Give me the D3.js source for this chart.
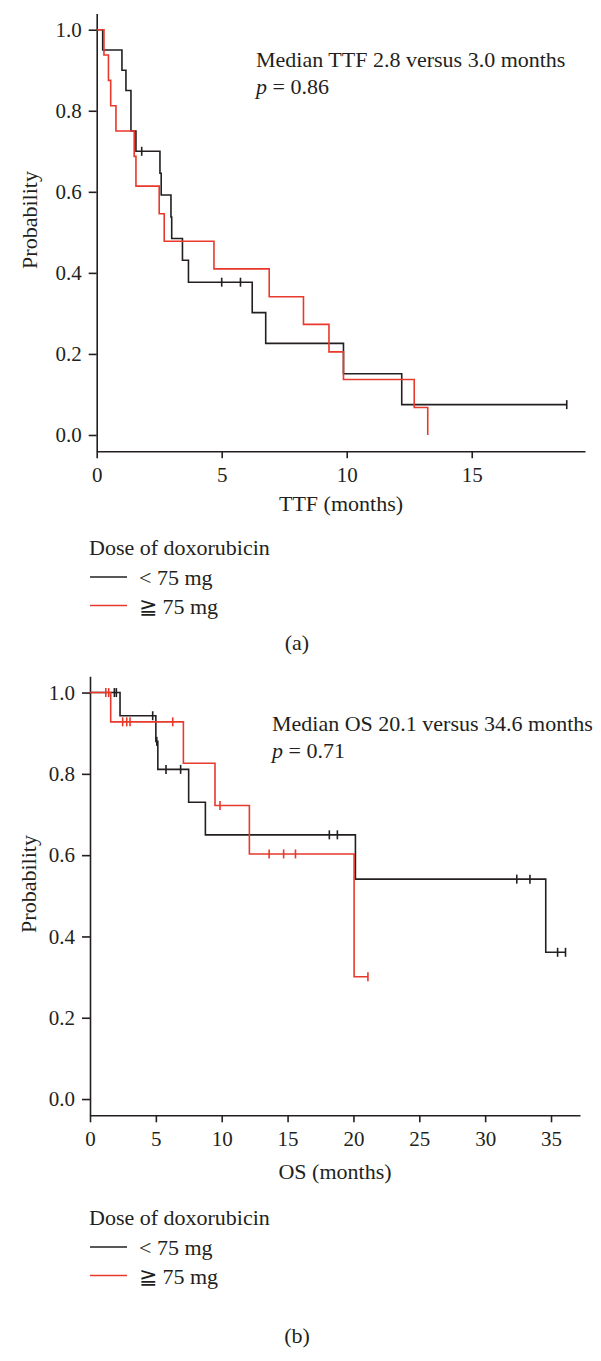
<!DOCTYPE html>
<html><head><meta charset="utf-8">
<script src="https://cdn.jsdelivr.net/npm/d3@7"></script>
<style>
body{margin:0;background:#fff}
svg{display:block}
text{font-family:"Liberation Serif","Times New Roman",serif;fill:#231f20}
</style></head>
<body><svg id="c" width="601" height="1361"></svg>
<script>
// ---- Data ----
const yTicks = [0, 0.2, 0.4, 0.6, 0.8, 1.0];
const ttfTicks = [0, 5, 10, 15];
const osTicks = [0, 5, 10, 15, 20, 25, 30, 35];
const groups = ["< 75 mg", "\u2267 75 mg"];

// Panel (a) TTF, < 75 mg
const ttfLowTimes = [0.24, 1.01, 1.17, 1.37, 1.57, 2.53, 2.58, 2.97, 3.0, 3.43, 3.67, 6.22, 6.76, 9.87, 12.2];
const ttfLowSurv  = [0.95, 0.90, 0.85, 0.75, 0.70, 0.646, 0.592, 0.538, 0.485, 0.431, 0.377, 0.302, 0.226, 0.151, 0.075];
const ttfLowCensor = [1.8, 5.0, 5.75, 18.8];
const ttfLowEnd = 18.8;
// Panel (a) TTF, >= 75 mg
const ttfHighTimes = [0.29, 0.47, 0.56, 0.77, 1.5, 1.57, 2.5, 2.7, 4.69, 6.9, 8.27, 9.29, 9.87, 12.7, 13.24];
const ttfHighSurv  = [0.9375, 0.875, 0.8125, 0.75, 0.6875, 0.614, 0.546, 0.478, 0.41, 0.341, 0.273, 0.205, 0.137, 0.068, 0];
const ttfHighCensor = [];
const ttfHighEnd = 13.24;

// Panel (b) OS, < 75 mg
const osLowTimes = [2.28, 5.0, 5.15, 7.49, 8.76, 20.15, 34.6];
const osLowSurv  = [0.943, 0.88, 0.811, 0.73, 0.65, 0.541, 0.361];
const osLowCensor = [1.85, 2.0, 4.76, 5.07, 5.77, 6.88, 18.17, 18.78, 32.4, 33.4, 35.5, 36.1];
const osLowEnd = 36.1;
// Panel (b) OS, >= 75 mg
const osHighTimes = [1.57, 7.09, 9.49, 12.1, 20.05];
const osHighSurv  = [0.928, 0.826, 0.722, 0.603, 0.301];
const osHighCensor = [1.2, 1.42, 2.48, 2.79, 3.04, 6.28, 9.87, 13.6, 14.7, 15.6, 21.1];
const osHighEnd = 21.1;

const colors = ["#231f20", "#e8392b"];
const FS = "22px";

const svg = d3.select("#c");

function survAt(times, surv, t){
  let s = 1;
  for (let i = 0; i < times.length; i++) if (times[i] <= t) s = surv[i];
  return s;
}

function panel(cfg){
  const x = d3.scaleLinear().domain(cfg.xDomain).range(cfg.xRange);
  const y = d3.scaleLinear().domain([-0.04, 1.04]).range(cfg.yRange);
  const g = svg.append("g");

  const ya = g.append("g").attr("transform", `translate(${cfg.xRange[0]},0)`)
    .call(d3.axisLeft(y).tickValues(yTicks).tickFormat(d3.format(".1f")).tickSize(8).tickSizeOuter(0).tickPadding(7));
  const xa = g.append("g").attr("transform", `translate(0,${cfg.yRange[0]})`)
    .call(d3.axisBottom(x).tickValues(cfg.xTicks).tickFormat(d3.format("d")).tickSize(7).tickSizeOuter(0).tickPadding(6));
  [ya, xa].forEach(a => {
    a.selectAll("path,line").attr("stroke", "#231f20").attr("stroke-width", 1.6);
    a.selectAll("text").style("font-family", '"Liberation Serif",serif').style("font-size", "21px").attr("fill", "#231f20");
  });
  xa.selectAll("text").attr("dy", "0.85em");

  const line = d3.line().x(d => x(d[0])).y(d => y(d[1])).curve(d3.curveStepAfter);
  cfg.series.forEach((s, i) => {
    const pts = [[0, 1]];
    s.times.forEach((t, k) => pts.push([t, s.surv[k]]));
    pts.push([s.end, s.surv[s.surv.length - 1]]);
    g.append("path").attr("d", line(pts)).attr("fill", "none")
      .attr("stroke", colors[i]).attr("stroke-width", 1.6);
    g.selectAll(null).data(s.censor).enter().append("line")
      .attr("x1", d => x(d)).attr("x2", d => x(d))
      .attr("y1", d => y(survAt(s.times, s.surv, d)) - 4.5)
      .attr("y2", d => y(survAt(s.times, s.surv, d)) + 4.5)
      .attr("stroke", colors[i]).attr("stroke-width", 1.6);
  });

  g.append("text").attr("transform", `translate(${cfg.ylabX},${cfg.ylabY}) rotate(-90)`)
    .attr("text-anchor", "middle").style("font-size", FS).text("Probability");
  g.append("text").attr("x", cfg.xlabX).attr("y", cfg.xlabY).attr("text-anchor", "middle")
    .style("font-size", FS).text(cfg.xlab);
  g.append("text").attr("x", cfg.annX).attr("y", cfg.annY).style("font-size", FS).text(cfg.ann);
  const pt = g.append("text").attr("x", cfg.annX).attr("y", cfg.annY + 27).style("font-size", FS);
  pt.append("tspan").style("font-style", "italic").text("p");
  pt.append("tspan").text(" = " + cfg.p);

  const L = cfg.legY;
  g.append("text").attr("x", 89).attr("y", L).style("font-size", FS).text("Dose of doxorubicin");
  groups.forEach((lab, i) => {
    const yy = L + 22 + i * 28.5;
    g.append("line").attr("x1", 90).attr("x2", 127).attr("y1", yy).attr("y2", yy)
      .attr("stroke", colors[i]).attr("stroke-width", 1.6);
    g.append("text").attr("x", 139).attr("y", yy + 8).style("font-size", FS)
      .style("font-family", i === 1 ? '"Liberation Serif","DejaVu Serif",serif' : null).text(lab);
  });
  g.append("text").attr("x", 297).attr("y", cfg.capY).attr("text-anchor", "middle")
    .style("font-size", FS).text(cfg.cap);
}

panel({
  xDomain: [0, 19.53], xRange: [96.7, 585], yRange: [451.2, 13.5], xTicks: ttfTicks,
  series: [
    {times: ttfLowTimes, surv: ttfLowSurv, censor: ttfLowCensor, end: ttfLowEnd},
    {times: ttfHighTimes, surv: ttfHighSurv, censor: ttfHighCensor, end: ttfHighEnd}
  ],
  ylabX: 37, ylabY: 220, xlab: "TTF (months)", xlabX: 341, xlabY: 511,
  ann: "Median TTF 2.8 versus 3.0 months", p: "0.86", annX: 256, annY: 67,
  legY: 555, cap: "(a)", capY: 650
});

panel({
  xDomain: [0, 37.2], xRange: [90, 580], yRange: [1115.3, 676.3], xTicks: osTicks,
  series: [
    {times: osLowTimes, surv: osLowSurv, censor: osLowCensor, end: osLowEnd},
    {times: osHighTimes, surv: osHighSurv, censor: osHighCensor, end: osHighEnd}
  ],
  ylabX: 36, ylabY: 884, xlab: "OS (months)", xlabX: 335, xlabY: 1179,
  ann: "Median OS 20.1 versus 34.6 months", p: "0.71", annX: 272, annY: 731,
  legY: 1225, cap: "(b)", capY: 1343
});
</script></body></html>
